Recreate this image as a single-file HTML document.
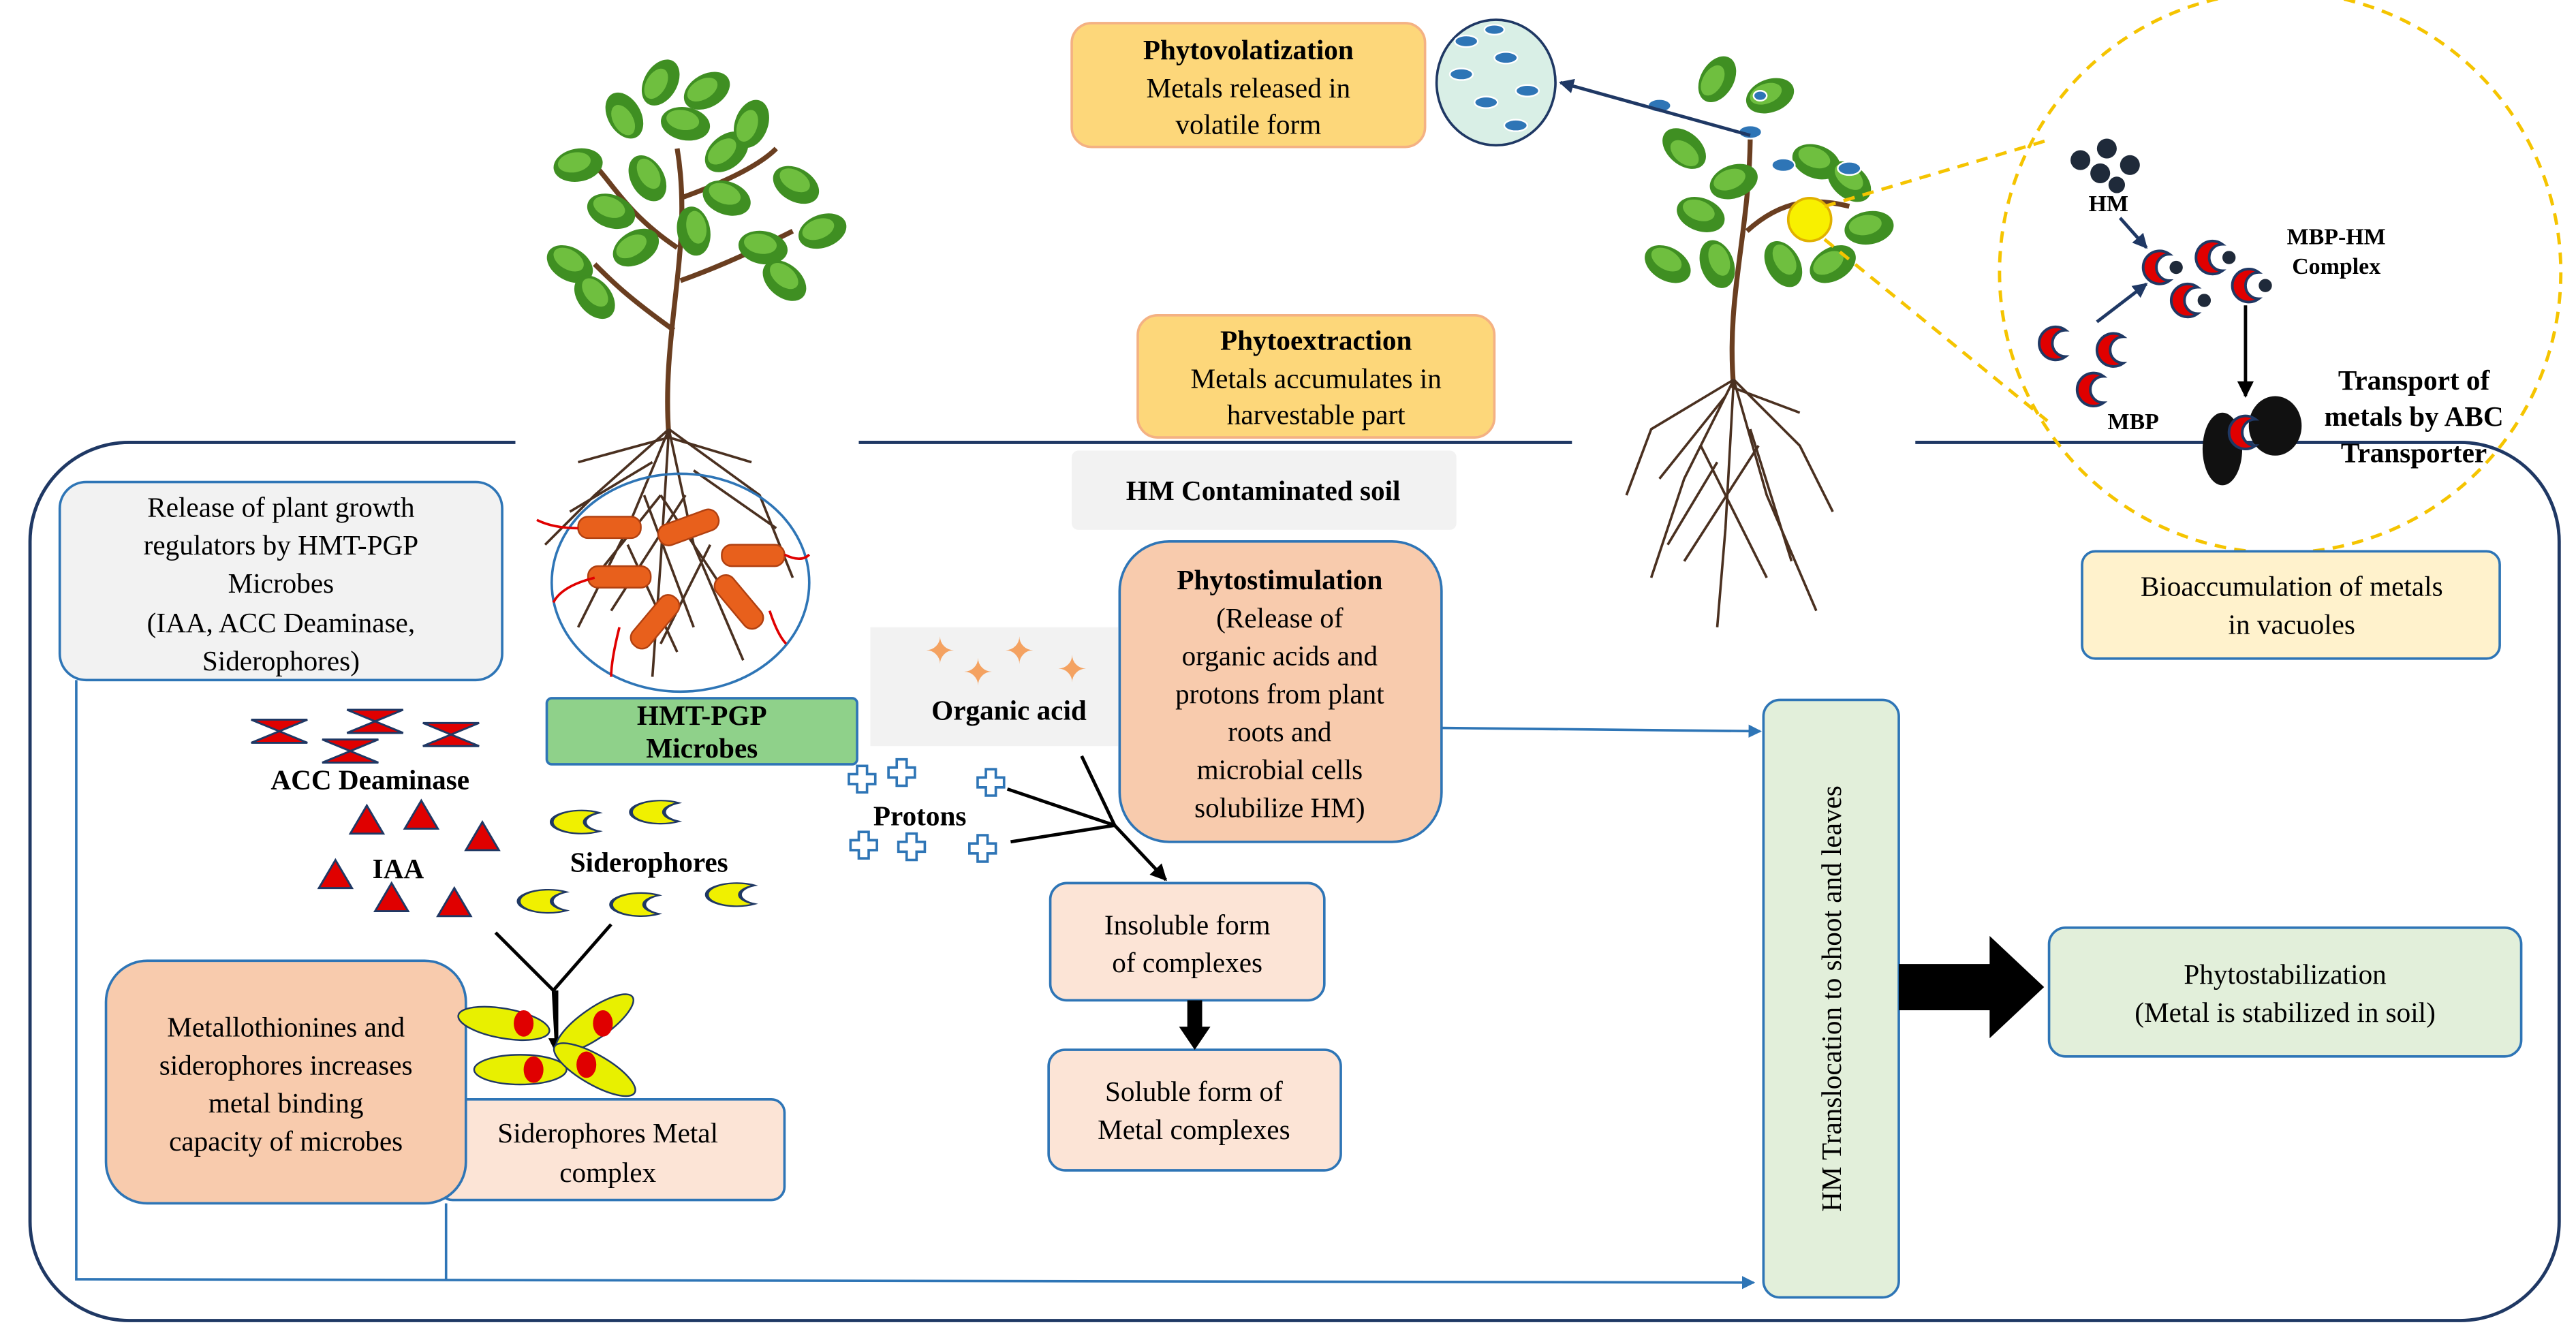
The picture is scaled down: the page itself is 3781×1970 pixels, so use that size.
<!DOCTYPE html>
<html><head><meta charset="utf-8"><style>
html,body{margin:0;padding:0;background:#fff;}
svg{display:block;}
text{font-family:"Liberation Serif",serif;}
</style></head><body>
<svg width="3781" height="1970" viewBox="0 0 1560 813" xmlns="http://www.w3.org/2000/svg">
<defs>
<marker id="ab" markerWidth="8" markerHeight="8" refX="7" refY="4" orient="auto" markerUnits="userSpaceOnUse"><path d="M0,0 L8,4 L0,8 z" fill="#2e75b6"/></marker>
<marker id="ak" markerWidth="10" markerHeight="10" refX="9" refY="5" orient="auto" markerUnits="userSpaceOnUse"><path d="M0,0 L10,5 L0,10 z" fill="#000"/></marker>
<marker id="an" markerWidth="9" markerHeight="9" refX="8" refY="4.5" orient="auto" markerUnits="userSpaceOnUse"><path d="M0,0 L9,4.5 L0,9 z" fill="#1f3864"/></marker>
<g id="leaf"><ellipse cx="0" cy="0" rx="15" ry="10" fill="#3f8f22"/><ellipse cx="-2" cy="-2" rx="10" ry="6" fill="#6fbf3f"/></g>
<path id="cres" d="M6,-8 A10,10 0 1,0 6,8 A9,9 0 0,1 6,-8 z" fill="#f0f000" stroke="#1f3864" stroke-width="1.3" transform="scale(1.8,0.7)"/>
<path id="mbp" d="M6,-8 A10,10 0 1,0 6,8 A8,8 0 0,1 6,-8 z" fill="#e00000" stroke="#1f3864" stroke-width="1.6"/>
</defs>

<!-- frame -->
<rect x="18" y="268" width="1532" height="532" rx="60" fill="none" stroke="#1f3864" stroke-width="2"/>
<rect x="312" y="262" width="208" height="12" fill="#fff"/>
<rect x="952" y="262" width="208" height="12" fill="#fff"/>

<!-- left plant -->
<g stroke="#6a3e20" stroke-width="3" fill="none">
<path d="M405,265 C400,200 420,150 410,90 M410,150 C380,130 370,110 360,100 M412,120 C440,110 460,100 470,90 M408,200 C380,180 370,170 360,160 M412,170 C440,160 460,150 480,140"/>
</g>
<g>
<use href="#leaf" transform="translate(400,50) rotate(-60)"/><use href="#leaf" transform="translate(428,55) rotate(-30)"/>
<use href="#leaf" transform="translate(378,70) rotate(-120)"/><use href="#leaf" transform="translate(370,128) rotate(20)"/>
<use href="#leaf" transform="translate(350,100) rotate(-10)"/><use href="#leaf" transform="translate(482,112) rotate(30)"/>
<use href="#leaf" transform="translate(462,150) rotate(10)"/><use href="#leaf" transform="translate(440,92) rotate(-40)"/>
<use href="#leaf" transform="translate(345,160) rotate(30)"/><use href="#leaf" transform="translate(392,108) rotate(60)"/>
<use href="#leaf" transform="translate(498,140) rotate(-20)"/><use href="#leaf" transform="translate(420,140) rotate(80)"/>
<use href="#leaf" transform="translate(455,75) rotate(-70)"/><use href="#leaf" transform="translate(385,150) rotate(-30)"/>
<use href="#leaf" transform="translate(475,170) rotate(40)"/><use href="#leaf" transform="translate(360,180) rotate(50)"/>
<use href="#leaf" transform="translate(440,120) rotate(20)"/><use href="#leaf" transform="translate(415,75) rotate(10)"/>
</g>
<g stroke="#4a3020" stroke-width="1.5" fill="none">
<path d="M405,260 L380,320 L350,380 M405,260 L420,330 L450,400 M405,260 L400,340 L395,410 M405,260 L360,300 L330,330 M405,260 L460,300 L480,350 M390,300 L420,380 M415,300 L370,370 M380,330 L410,395 M430,330 L400,390 M405,265 L350,280 M405,265 L455,280 M395,280 L345,310 M420,285 L470,320 M400,300 L440,360 M400,300 L360,350"/>
</g>
<ellipse cx="412" cy="353" rx="78" ry="66" fill="none" stroke="#2e75b6" stroke-width="1.5"/>
<g fill="#e8601c" stroke="#b04010" stroke-width="1">
<rect x="350" y="313" width="38" height="13" rx="6"/><rect x="398" y="313" width="38" height="13" rx="6" transform="rotate(-20 417 320)"/>
<rect x="437" y="330" width="38" height="13" rx="6"/><rect x="356" y="343" width="38" height="13" rx="6"/>
<rect x="378" y="370" width="38" height="13" rx="6" transform="rotate(-50 397 377)"/><rect x="428" y="358" width="38" height="13" rx="6" transform="rotate(50 447 365)"/>
</g>
<g stroke="#e00000" stroke-width="1.5" fill="none"><path d="M350,320 q-15,0 -25,-5 M475,336 q10,5 15,0 M375,380 q-5,20 -5,30 M466,370 q5,15 10,20 M360,350 q-20,5 -25,15"/></g>

<!-- right plant -->
<g stroke="#6a3e20" stroke-width="3" fill="none"><path d="M1050,235 C1045,180 1060,140 1060,80 M1058,140 C1080,120 1100,120 1120,125"/></g>
<g>
<use href="#leaf" transform="translate(1040,48) rotate(-60)"/><use href="#leaf" transform="translate(1072,58) rotate(-20)"/>
<use href="#leaf" transform="translate(1020,90) rotate(-140)"/><use href="#leaf" transform="translate(1030,130) rotate(20)"/>
<use href="#leaf" transform="translate(1100,98) rotate(20)"/><use href="#leaf" transform="translate(1132,138) rotate(-10)"/>
<use href="#leaf" transform="translate(1010,160) rotate(30)"/><use href="#leaf" transform="translate(1080,160) rotate(60)"/>
<use href="#leaf" transform="translate(1120,110) rotate(40)"/><use href="#leaf" transform="translate(1050,110) rotate(-20)"/>
<use href="#leaf" transform="translate(1110,160) rotate(-30)"/><use href="#leaf" transform="translate(1040,160) rotate(70)"/>
</g>
<g stroke="#4a3020" stroke-width="1.5" fill="none">
<path d="M1050,230 L1020,290 L1000,350 M1050,230 L1070,300 L1100,370 M1050,230 L1045,320 L1040,380 M1050,230 L1000,260 L985,300 M1050,230 L1090,270 L1110,310 M1030,270 L1070,350 M1065,270 L1020,340 M1050,235 L1090,250 M1045,240 L1005,290 M1060,260 L1085,340 M1040,280 L1010,330"/>
</g>
<g fill="#2e75b6" stroke="#fff" stroke-width="1"><ellipse cx="1005" cy="64" rx="7" ry="4"/><ellipse cx="1060" cy="80" rx="7" ry="4"/><ellipse cx="1080" cy="100" rx="7" ry="4"/><ellipse cx="1120" cy="102" rx="7" ry="4"/><ellipse cx="1066" cy="58" rx="4" ry="3"/></g>
<circle cx="1096" cy="133" r="13" fill="#f8f000" stroke="#e0b000" stroke-width="1.5"/>
<g stroke="#f5c400" stroke-width="2" stroke-dasharray="7,5" fill="none">
<circle cx="1381" cy="165" r="170"/><path d="M1105,125 L1240,85 M1105,145 L1240,255"/>
</g>
<line x1="1060" y1="82" x2="945" y2="50" stroke="#1f3864" stroke-width="2" marker-end="url(#an)"/>
<ellipse cx="906" cy="50" rx="36" ry="38" fill="#d9efe6" stroke="#1f3864" stroke-width="1.5"/>
<g fill="#2e75b6" stroke="#fff"><ellipse cx="888" cy="25" rx="7" ry="3.5"/><ellipse cx="912" cy="35" rx="7" ry="3.5"/><ellipse cx="885" cy="45" rx="7" ry="3.5"/><ellipse cx="925" cy="55" rx="7" ry="3.5"/><ellipse cx="900" cy="62" rx="7" ry="3.5"/><ellipse cx="918" cy="76" rx="7" ry="3.5"/><ellipse cx="905" cy="18" rx="6" ry="3"/></g>

<!-- zoom circle contents -->
<g fill="#1f2a3a"><circle cx="1260" cy="97" r="6"/><circle cx="1276" cy="90" r="6"/><circle cx="1272" cy="105" r="6"/><circle cx="1290" cy="100" r="6"/><circle cx="1282" cy="112" r="5"/></g>
<text x="1277" y="128" font-size="14" font-weight="bold" text-anchor="middle">HM</text>
<line x1="1284" y1="132" x2="1300" y2="150" stroke="#1f3864" stroke-width="2" marker-end="url(#an)"/>
<use href="#mbp" transform="translate(1308,162)"/><use href="#mbp" transform="translate(1340,156)"/><use href="#mbp" transform="translate(1325,182)"/><use href="#mbp" transform="translate(1362,173)"/>
<g fill="#1f2a3a"><circle cx="1318" cy="162" r="4"/><circle cx="1350" cy="156" r="4"/><circle cx="1335" cy="182" r="4"/><circle cx="1372" cy="173" r="4"/></g>
<text x="1415" y="148" font-size="14" font-weight="bold" text-anchor="middle">MBP-HM</text>
<text x="1415" y="166" font-size="14" font-weight="bold" text-anchor="middle">Complex</text>
<line x1="1270" y1="195" x2="1300" y2="172" stroke="#1f3864" stroke-width="2" marker-end="url(#an)"/>
<use href="#mbp" transform="translate(1245,208)"/><use href="#mbp" transform="translate(1280,212)"/><use href="#mbp" transform="translate(1268,236)"/>
<text x="1292" y="260" font-size="14" font-weight="bold" text-anchor="middle">MBP</text>
<line x1="1360" y1="185" x2="1360" y2="240" stroke="#000" stroke-width="2" marker-end="url(#ak)"/>
<ellipse cx="1346" cy="272" rx="12" ry="22" fill="#111"/><ellipse cx="1378" cy="258" rx="16" ry="18" fill="#111"/>
<use href="#mbp" transform="translate(1360,262)"/>
<text x="1462" y="236" font-size="17" font-weight="bold" text-anchor="middle">Transport of</text>
<text x="1462" y="258" font-size="17" font-weight="bold" text-anchor="middle">metals by ABC</text>
<text x="1462" y="280" font-size="17" font-weight="bold" text-anchor="middle">Transporter</text>

<!-- boxes -->
<g font-size="17">
<rect x="649" y="14" width="214" height="75" rx="12" fill="#fdd77a" stroke="#f4b183" stroke-width="1.5"/>
<text x="756" y="36" text-anchor="middle" font-weight="bold">Phytovolatization</text>
<text x="756" y="59" text-anchor="middle">Metals released in</text>
<text x="756" y="81" text-anchor="middle">volatile form</text>

<rect x="689" y="191" width="216" height="74" rx="12" fill="#fdd77a" stroke="#f4b183" stroke-width="1.5"/>
<text x="797" y="212" text-anchor="middle" font-weight="bold">Phytoextraction</text>
<text x="797" y="235" text-anchor="middle">Metals accumulates in</text>
<text x="797" y="257" text-anchor="middle">harvestable part</text>

<rect x="649" y="273" width="233" height="48" rx="4" fill="#f2f2f2"/>
<text x="765" y="303" text-anchor="middle" font-weight="bold">HM Contaminated soil</text>

<rect x="36" y="292" width="268" height="120" rx="16" fill="#f2f2f2" stroke="#2e75b6" stroke-width="1.5"/>
<text x="170" y="313" text-anchor="middle">Release of plant growth</text>
<text x="170" y="336" text-anchor="middle">regulators by HMT-PGP</text>
<text x="170" y="359" text-anchor="middle">Microbes</text>
<text x="170" y="383" text-anchor="middle">(IAA, ACC Deaminase,</text>
<text x="170" y="406" text-anchor="middle">Siderophores)</text>

<rect x="331" y="423" width="188" height="40" rx="3" fill="#8fd18a" stroke="#2e75b6" stroke-width="1.5"/>
<text x="425" y="439" text-anchor="middle" font-weight="bold">HMT-PGP</text>
<text x="425" y="459" text-anchor="middle" font-weight="bold">Microbes</text>

<rect x="527" y="380" width="150" height="72" fill="#f2f2f2"/>
<text x="611" y="436" text-anchor="middle" font-weight="bold">Organic acid</text>
<g fill="#f4a261" font-size="22"><text x="560" y="402">✦</text><text x="583" y="415">✦</text><text x="608" y="402">✦</text><text x="640" y="413">✦</text></g>

<rect x="678" y="328" width="195" height="182" rx="30" fill="#f8cbad" stroke="#2e75b6" stroke-width="1.5"/>
<text x="775" y="357" text-anchor="middle" font-weight="bold">Phytostimulation</text>
<text x="775" y="380" text-anchor="middle">(Release of</text>
<text x="775" y="403" text-anchor="middle">organic acids and</text>
<text x="775" y="426" text-anchor="middle">protons from plant</text>
<text x="775" y="449" text-anchor="middle">roots and</text>
<text x="775" y="472" text-anchor="middle">microbial cells</text>
<text x="775" y="495" text-anchor="middle">solubilize HM)</text>

<rect x="636" y="535" width="166" height="71" rx="10" fill="#fce4d6" stroke="#2e75b6" stroke-width="1.5"/>
<text x="719" y="566" text-anchor="middle">Insoluble form</text>
<text x="719" y="589" text-anchor="middle">of complexes</text>
<rect x="635" y="636" width="177" height="73" rx="10" fill="#fce4d6" stroke="#2e75b6" stroke-width="1.5"/>
<text x="723" y="667" text-anchor="middle">Soluble form of</text>
<text x="723" y="690" text-anchor="middle">Metal complexes</text>

<rect x="1068" y="424" width="82" height="362" rx="10" fill="#e2efda" stroke="#2e75b6" stroke-width="1.5"/>
<text transform="translate(1115,605) rotate(-90)" text-anchor="middle">HM Translocation to shoot and leaves</text>

<rect x="1241" y="562" width="286" height="78" rx="10" fill="#e2efda" stroke="#2e75b6" stroke-width="1.5"/>
<text x="1384" y="596" text-anchor="middle">Phytostabilization</text>
<text x="1384" y="619" text-anchor="middle">(Metal is stabilized in soil)</text>

<rect x="1261" y="334" width="253" height="65" rx="8" fill="#fff2cc" stroke="#2e75b6" stroke-width="1.5"/>
<text x="1388" y="361" text-anchor="middle">Bioaccumulation of metals</text>
<text x="1388" y="384" text-anchor="middle">in vacuoles</text>

<rect x="266" y="666" width="209" height="61" rx="8" fill="#fce4d6" stroke="#2e75b6" stroke-width="1.5"/>
<text x="368" y="692" text-anchor="middle">Siderophores Metal</text>
<text x="368" y="716" text-anchor="middle">complex</text>

<rect x="64" y="582" width="218" height="147" rx="25" fill="#f8cbad" stroke="#2e75b6" stroke-width="1.5"/>
<text x="173" y="628" text-anchor="middle">Metallothionines and</text>
<text x="173" y="651" text-anchor="middle">siderophores increases</text>
<text x="173" y="674" text-anchor="middle">metal binding</text>
<text x="173" y="697" text-anchor="middle">capacity of microbes</text>
</g>

<!-- left symbols -->
<g fill="#e00000" stroke="#1f3864" stroke-width="1.2">
<path d="M152,436 L186,436 L169,443 z M152,450 L186,450 L169,443z"/>
<path d="M210,430 L244,430 L227,437z M210,444 L244,444 L227,437z"/>
<path d="M256,438 L290,438 L273,445z M256,452 L290,452 L273,445z"/>
<path d="M195,448 L229,448 L212,455z M195,462 L229,462 L212,455z"/>
<path d="M212,505 L222,488 L232,505z M245,502 L255,485 L265,502z M282,515 L292,498 L302,515z M193,538 L203,521 L213,538z M227,552 L237,535 L247,552z M265,555 L275,538 L285,555z"/>
</g>
<g font-size="17" font-weight="bold">
<text x="224" y="478" text-anchor="middle">ACC Deaminase</text>
<text x="241" y="532" text-anchor="middle">IAA</text>
<text x="393" y="528" text-anchor="middle">Siderophores</text>
<text x="557" y="500" text-anchor="middle">Protons</text>
</g>
<use href="#cres" transform="translate(352,498)"/><use href="#cres" transform="translate(400,492)"/>
<use href="#cres" transform="translate(332,546)"/><use href="#cres" transform="translate(388,548)"/><use href="#cres" transform="translate(446,542)"/>
<g stroke="#000" stroke-width="2" fill="none"><path d="M300,565 L335,600 L370,560 M335,600 L337,636"/></g>
<line x1="337" y1="600" x2="337" y2="638" stroke="#000" stroke-width="2" marker-end="url(#ak)"/>
<g transform="translate(285,600)"><ellipse cx="20" cy="20" rx="28" ry="9" fill="#e8f000" stroke="#1f3864" transform="rotate(10 20 20)"/><ellipse cx="32" cy="20" rx="6" ry="8" fill="#e00000"/>
<ellipse cx="75" cy="20" rx="28" ry="9" fill="#e8f000" stroke="#1f3864" transform="rotate(-35 75 20)"/><ellipse cx="80" cy="20" rx="6" ry="8" fill="#e00000"/>
<ellipse cx="30" cy="48" rx="28" ry="9" fill="#e8f000" stroke="#1f3864"/><ellipse cx="38" cy="48" rx="6" ry="8" fill="#e00000"/>
<ellipse cx="75" cy="48" rx="28" ry="9" fill="#e8f000" stroke="#1f3864" transform="rotate(30 75 48)"/><ellipse cx="70" cy="45" rx="6" ry="8" fill="#e00000"/></g>

<g fill="#fff" stroke="#2e75b6" stroke-width="1.5">
<path d="M-3,-8 h6 v5 h5 v6 h-5 v5 h-6 v-5 h-5 v-6 h5z" transform="translate(522,472)"/>
<path d="M-3,-8 h6 v5 h5 v6 h-5 v5 h-6 v-5 h-5 v-6 h5z" transform="translate(546,468)"/>
<path d="M-3,-8 h6 v5 h5 v6 h-5 v5 h-6 v-5 h-5 v-6 h5z" transform="translate(600,474)"/>
<path d="M-3,-8 h6 v5 h5 v6 h-5 v5 h-6 v-5 h-5 v-6 h5z" transform="translate(523,512)"/>
<path d="M-3,-8 h6 v5 h5 v6 h-5 v5 h-6 v-5 h-5 v-6 h5z" transform="translate(552,513)"/>
<path d="M-3,-8 h6 v5 h5 v6 h-5 v5 h-6 v-5 h-5 v-6 h5z" transform="translate(595,514)"/>
</g>
<g stroke="#000" stroke-width="2" fill="none"><path d="M655,458 L675,500 M610,478 L675,500 M612,510 L675,500"/></g>
<line x1="675" y1="500" x2="706" y2="533" stroke="#000" stroke-width="2" marker-end="url(#ak)"/>

<!-- arrows -->
<rect x="719" y="606" width="9" height="18" fill="#000"/><path d="M714,622 L733,622 L723.5,636z" fill="#000"/>
<path d="M1150,584 L1205,584 L1205,567 L1238,598 L1205,629 L1205,612 L1150,612z" fill="#000"/>
<g stroke="#2e75b6" stroke-width="1.5" fill="none">
<path d="M46,412 L46,775 L1062,777" marker-end="url(#ab)"/>
<path d="M270,729 L270,775"/>
<path d="M873,441 L1066,443" marker-end="url(#ab)"/>
</g>
</svg>
</body></html>
